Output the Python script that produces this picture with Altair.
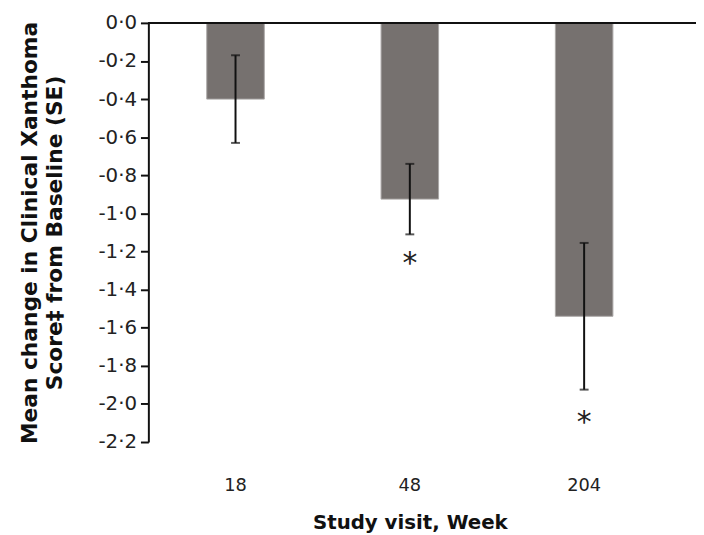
import altair as alt
import pandas as pd

weeks = ["18", "48", "204"]
means = [-0.40, -0.925, -1.54]
se = [0.23, 0.185, 0.385]
stars = ["", "*", "*"]
star_pos = [-0.8, -1.235, -2.07]
y_ticks = [0.0, -0.2, -0.4, -0.6, -0.8, -1.0, -1.2, -1.4, -1.6, -1.8, -2.0, -2.2]

df = pd.DataFrame({
    "week": weeks,
    "mean": means,
    "lo": [m - s for m, s in zip(means, se)],
    "hi": [m + s for m, s in zip(means, se)],
    "star": stars,
    "star_y": star_pos,
})

FONT = "DejaVu Sans"

x_scale = alt.Scale(paddingInner=0.67, paddingOuter=0.335)
y_scale = alt.Scale(domain=[-2.2, 0], nice=False, zero=False)

x_axis = alt.Axis(
    title="Study visit, Week",
    labelAngle=0,
    domain=False,
    ticks=False,
    labelPadding=35,
    labelFontSize=18,
    labelColor="#222222",
    labelFont=FONT,
    titleFont=FONT,
    titleFontSize=20,
    titleFontWeight="bold",
    titleColor="#111111",
    titlePadding=18,
)

y_axis = alt.Axis(
    title=["Mean change in Clinical Xanthoma", "Score\u2021 from Baseline (SE)"],
    values=y_ticks,
    labelExpr="replace(replace(format(datum.value, '.1f'), '.', '\u00b7'), '\u2212', '-')",
    labelOverlap=False,
    labelFlush=False,
    grid=False,
    domainColor="#111111",
    domainWidth=2,
    tickColor="#111111",
    tickWidth=2,
    tickSize=8,
    labelPadding=4,
    labelFontSize=20,
    labelColor="#222222",
    labelFont=FONT,
    titleFont=FONT,
    titleFontSize=22,
    titleFontWeight="bold",
    titleColor="#111111",
    titlePadding=32,
    titleLineHeight=25,
)

xn = alt.X("week:N", sort=weeks, scale=x_scale, axis=x_axis)

bars = alt.Chart(df).mark_bar(color="#76716f", stroke="#a9a6a5", strokeWidth=1).encode(
    x=xn,
    y=alt.Y("mean:Q", scale=y_scale, axis=y_axis),
    y2=alt.datum(0),
)

err = alt.Chart(df).mark_rule(color="#111111", strokeWidth=2).encode(
    x=xn,
    y=alt.Y("lo:Q", scale=y_scale, axis=y_axis),
    y2="hi:Q",
)

caps_lo = alt.Chart(df).mark_tick(color="#111111", thickness=2, size=9).encode(
    x=xn,
    y=alt.Y("lo:Q", scale=y_scale, axis=y_axis),
)
caps_hi = alt.Chart(df).mark_tick(color="#111111", thickness=2, size=9).encode(
    x=xn,
    y=alt.Y("hi:Q", scale=y_scale, axis=y_axis),
)

star_text = alt.Chart(df).mark_text(
    fontSize=30, font=FONT, color="#222222", baseline="middle", dy=6
).encode(
    x=xn,
    y=alt.Y("star_y:Q", scale=y_scale, axis=y_axis),
    text="star:N",
)

top_line = alt.Chart(df).mark_rule(color="#111111", strokeWidth=2).encode(
    x=alt.value(0),
    x2=alt.value(554),
    y=alt.value(0),
)

chart = alt.layer(bars, err, caps_lo, caps_hi, star_text, top_line).properties(
    width=529,
    height=424,
    autosize=alt.AutoSizeParams(type="none"),
    padding={"left": 142, "top": 12, "right": 25, "bottom": 91},
).configure_view(stroke=None)

chart.save("out.html", embed_options={"renderer": "svg", "actions": False})
